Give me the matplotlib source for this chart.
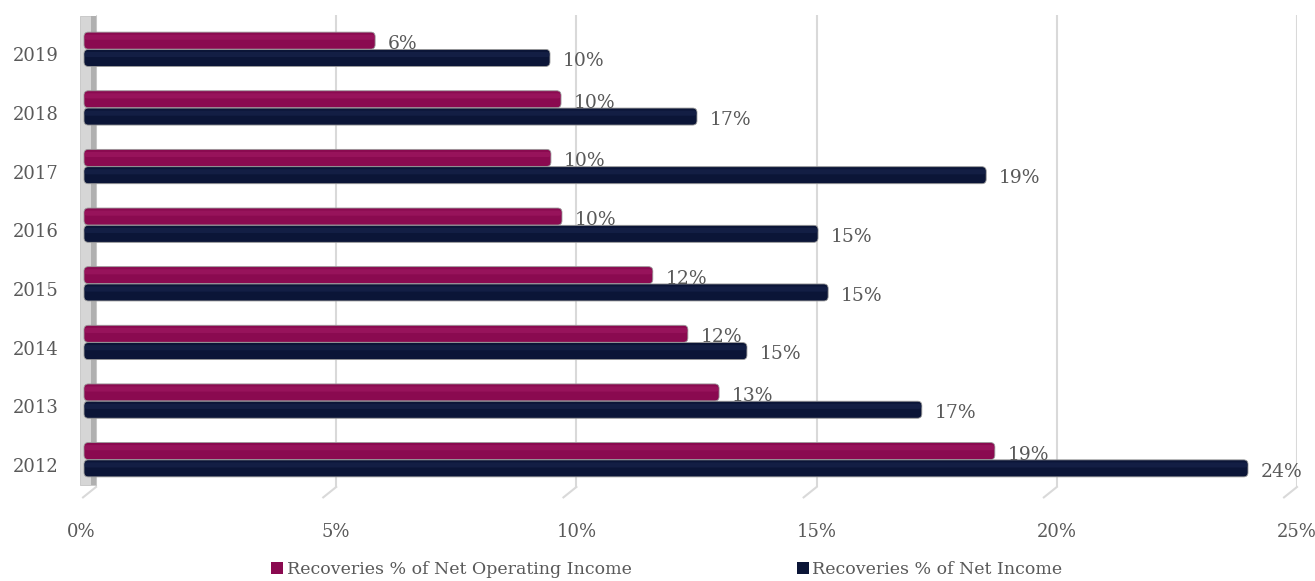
import numpy as np
import matplotlib
matplotlib.use("Agg")
import matplotlib.pyplot as plt
import matplotlib.transforms as mtransforms
from matplotlib.patches import FancyBboxPatch, Rectangle

years = ["2012", "2013", "2014", "2015", "2016", "2017", "2018", "2019"]
noi = [18.96, 13.22, 12.57, 11.84, 9.95, 9.72, 9.93, 6.06]
ni = [24.23, 17.44, 13.80, 15.49, 15.28, 18.78, 12.76, 9.70]
noi_labels = ["19%", "13%", "12%", "12%", "10%", "10%", "10%", "6%"]
ni_labels = ["24%", "17%", "15%", "15%", "15%", "19%", "17%", "10%"]
xticks = [0, 5, 10, 15, 20, 25]

c_noi = "#8a0a50"
c_ni = "#0b1537"
txt = "#595959"

plt.rcParams["font.family"] = ["DejaVu Serif"]

fig = plt.figure(figsize=(13.15, 5.81), dpi=100)
ax = fig.add_axes([96 / 1315, 1 - 487 / 581, (1297 - 96) / 1315, 472 / 581])

# bars sit in front of the back wall, a bit to the left
front = ax.transData + mtransforms.ScaledTranslation(-0.12, -0.01, fig.dpi_scale_trans)

y = np.arange(len(years))
h = 0.29


def round_bars(bars, color, light):
    for b in bars:
        x0, y0 = b.get_x(), b.get_y()
        w, hh = b.get_width(), b.get_height()
        b.set_visible(False)
        ax.add_patch(FancyBboxPatch((x0, y0), w, hh,
                                    boxstyle="round,pad=0,rounding_size=0.09",
                                    mutation_aspect=0.83, fc=color, ec="#9a9a9a",
                                    lw=0.6, zorder=3, transform=front, clip_on=False))
        # lighter stripe on the upper part
        ax.add_patch(FancyBboxPatch((x0, y0 + hh * 0.55), w, hh * 0.3,
                                    boxstyle="round,pad=0,rounding_size=0.07",
                                    mutation_aspect=0.83, fc=light, ec="none",
                                    alpha=0.45, zorder=4, transform=front, clip_on=False))


b1 = ax.barh(y + h / 2 + 0.005, noi, height=h, color=c_noi,
             label="Recoveries % of Net Operating Income")
b2 = ax.barh(y - h / 2, ni, height=h, color=c_ni,
             label="Recoveries % of Net Income")
round_bars(b1, c_noi, "#a8206a")
round_bars(b2, c_ni, "#1d2a55")

for i in range(len(years)):
    ax.annotate(noi_labels[i], (noi[i], y[i] + h / 2), xytext=(0.5, -3),
                textcoords="offset points", ha="left", va="center",
                fontsize=13.5, color=txt, zorder=5)
    ax.annotate(ni_labels[i], (ni[i], y[i] - h / 2), xytext=(0.5, -3),
                textcoords="offset points", ha="left", va="center",
                fontsize=13.5, color=txt, zorder=5)

# left side wall
ax.add_patch(Rectangle((-0.33, -0.45), 0.33, 8.0, fc="#d6d6d6", ec="#c4c4c4",
                       lw=0.6, zorder=1, clip_on=False))
ax.add_patch(Rectangle((-0.1, -0.45), 0.1, 8.0, fc="#b0b0b0", ec="none",
                       zorder=1, clip_on=False))

# floor ticks running toward the viewer
floor = mtransforms.blended_transform_factory(ax.transData, ax.transAxes)
for t in xticks:
    ax.plot([t, t - 0.27], [0, -0.022], color="#d9d9d9", lw=1.5,
            clip_on=False, zorder=0, transform=floor)

ax.set_xlim(0, 25)
ax.set_ylim(-0.48, 7.57)
ax.set_xticks(xticks)
ax.set_xticklabels([f"{t}%" for t in xticks])
ax.set_yticks(y)
ax.set_yticklabels(years)
ax.tick_params(length=0, labelsize=13, labelcolor=txt)
ax.tick_params(axis="x", pad=26)
ax.tick_params(axis="y", pad=27)
ax.xaxis.grid(True, color="#d9d9d9", lw=1.5, zorder=0)
ax.set_axisbelow(True)
for s in ax.spines.values():
    s.set_visible(False)

shift_y = mtransforms.ScaledTranslation(0, -0.06, fig.dpi_scale_trans)
for lab in ax.get_yticklabels():
    lab.set_transform(lab.get_transform() + shift_y)
zero_lab = ax.get_xticklabels()[0]
zero_lab.set_transform(zero_lab.get_transform()
                       + mtransforms.ScaledTranslation(-0.15, 0, fig.dpi_scale_trans))

fig.legend(handles=[b1[0], b2[0]],
           labels=["Recoveries % of Net Operating Income",
                   "Recoveries % of Net Income"],
           loc="lower center", bbox_to_anchor=(0.507, -0.022), ncol=2,
           frameon=False, fontsize=12.5, handlelength=0.7, handleheight=0.7,
           handletextpad=0.2, columnspacing=9.5, labelcolor=txt)
for hnd in fig.legends[0].legend_handles:
    hnd.set_visible(True)

fig.savefig("out.png", dpi=100)
